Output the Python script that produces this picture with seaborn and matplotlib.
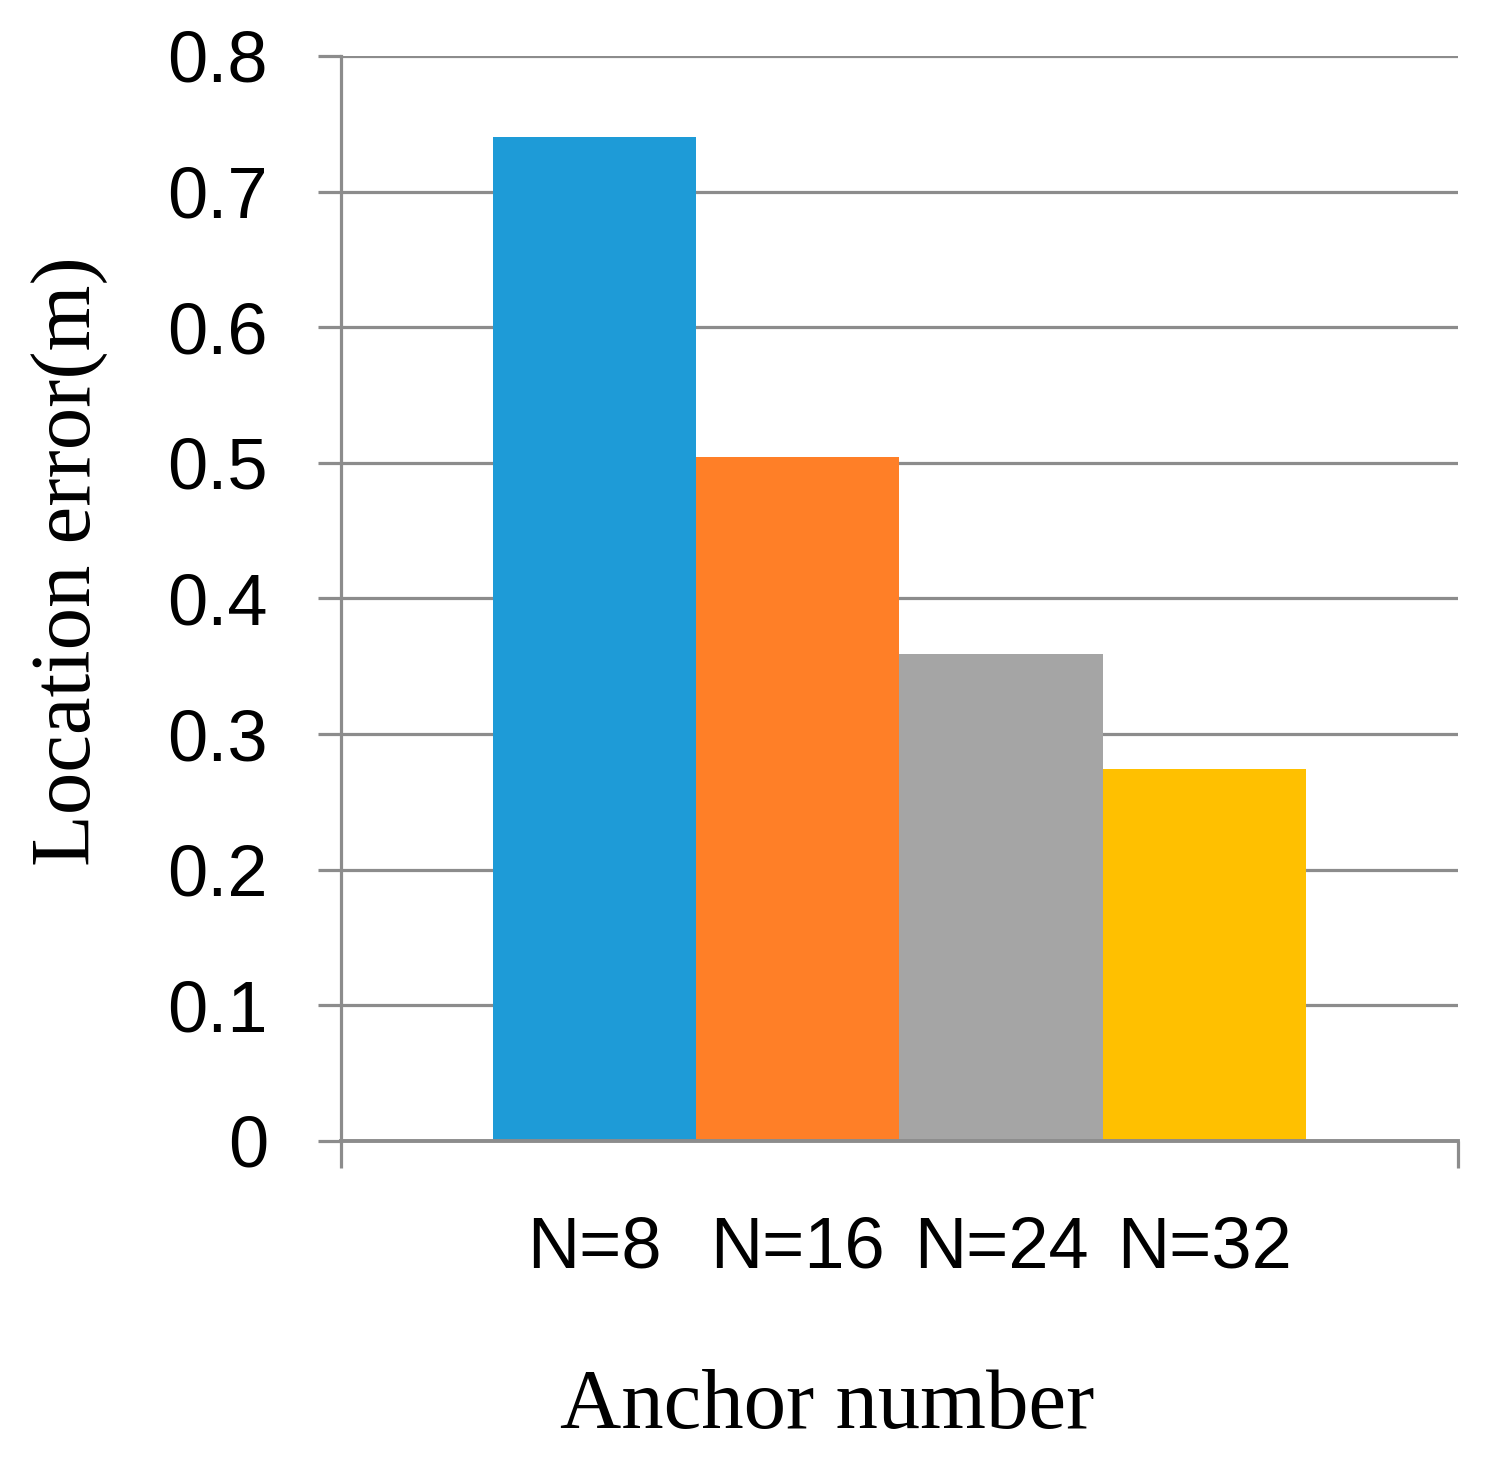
import numpy as np
import matplotlib.pyplot as plt
import seaborn as sns
import pandas as pd

# data
anchors = ["N=8", "N=16", "N=24", "N=32"]
errors = [0.740, 0.504, 0.359, 0.274]
colors = ["#1E9BD7", "#FF7F27", "#A5A5A5", "#FFC000"]
yticks = [0, 0.1, 0.2, 0.3, 0.4, 0.5, 0.6, 0.7, 0.8]

sns.set_theme(style="white")
plt.rcParams['font.family'] = ['Liberation Sans', 'DejaVu Sans']

df = pd.DataFrame({"anchor": anchors, "error": errors})

fig = plt.figure(figsize=(15.09, 14.65), dpi=100)
ax = fig.add_axes([0.226, 0.2212, 0.740, 0.7406])

sns.barplot(data=df, x="anchor", y="error", hue="anchor", palette=colors,
            width=1.0, saturation=1, legend=False, ax=ax, linewidth=0)

grid_c = "#8C8C8C"
ax.set_xlim(-1.248, 4.248)
ax.set_ylim(0, 0.8)
ax.set_yticks(yticks)
ax.set_yticklabels(["0" if v == 0 else "%.1f" % v for v in yticks])
ax.yaxis.grid(True, color=grid_c, linewidth=2.3)
ax.set_axisbelow(True)

for s in ["top", "right"]:
    ax.spines[s].set_visible(False)
ax.spines["left"].set_color(grid_c)
ax.spines["left"].set_linewidth(2.3)
ax.spines["bottom"].set_color(grid_c)
ax.spines["bottom"].set_linewidth(2.8)

ax.tick_params(axis="y", length=16.6, width=2.3, color=grid_c, pad=36,
               labelsize=52, labelcolor="black", left=True)
ax.tick_params(axis="x", which="major", length=0, pad=54, labelsize=52,
               labelcolor="black")
ax.set_xticks([-1.248, 4.248], minor=True)
ax.tick_params(axis="x", which="minor", length=19.4, width=2.3, color=grid_c,
               bottom=True, direction="out")

ax.set_xlabel("Anchor number", family=["Liberation Serif", "DejaVu Serif"],
              fontsize=61, labelpad=52, color="black")
ax.xaxis.set_label_coords(0.435, -0.21)
ax.set_ylabel("Location error(m)", family=["Liberation Serif", "DejaVu Serif"],
              fontsize=61, color="black")
ax.yaxis.set_label_coords(-0.209, 0.534)

fig.savefig("out.png", dpi=100)
